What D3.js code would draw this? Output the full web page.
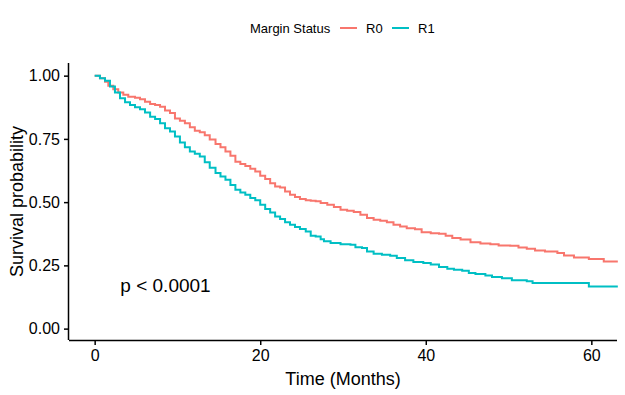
<!DOCTYPE html>
<html>
<head>
<meta charset="utf-8">
<script src="https://cdn.jsdelivr.net/npm/d3@7"></script>
<style>
  body { margin: 0; background: #fff; }
  svg text { font-family: Arial, "Liberation Sans", sans-serif; }
</style>
</head>
<body>
<svg width="625" height="395"></svg>
<script>
// Kaplan-Meier estimates
var groups = ["R0", "R1"];
var groupColors = ["#F8766D", "#00BFC4"];
var timeR0 = [0, 0.64, 1.25, 1.65, 2.25, 2.85, 3.46, 4.06, 4.87, 5.48, 6.08, 6.7, 7.3, 7.9, 8.5, 9.1, 9.7, 10.3, 10.9, 11.5, 12.1, 12.7, 13.3, 13.9, 14.6, 15.2, 15.8, 16.4, 17.0, 17.6, 18.2, 18.8, 19.4, 20.0, 20.6, 21.2, 21.8, 22.4, 23.0, 23.6, 24.2, 24.8, 25.5, 26.1, 26.7, 27.3, 28.1, 28.9, 29.7, 30.5, 31.3, 32.1, 32.9, 33.7, 34.5, 35.3, 36.1, 36.9, 37.7, 38.7, 39.5, 40.6, 41.6, 42.4, 43.2, 44.2, 45.4, 46.6, 47.8, 48.8, 50.2, 51.2, 52.2, 53.2, 54.4, 55.9, 56.7, 57.9, 59.7, 61.5, 63.2];
var survR0 = [1.0, 0.990, 0.976, 0.960, 0.946, 0.933, 0.924, 0.917, 0.913, 0.907, 0.897, 0.888, 0.884, 0.877, 0.862, 0.852, 0.831, 0.822, 0.812, 0.796, 0.782, 0.776, 0.764, 0.748, 0.730, 0.717, 0.700, 0.683, 0.660, 0.651, 0.643, 0.632, 0.621, 0.604, 0.591, 0.575, 0.562, 0.558, 0.542, 0.529, 0.520, 0.512, 0.507, 0.505, 0.503, 0.497, 0.490, 0.481, 0.470, 0.466, 0.461, 0.450, 0.437, 0.430, 0.426, 0.420, 0.411, 0.404, 0.397, 0.393, 0.381, 0.377, 0.375, 0.367, 0.358, 0.352, 0.341, 0.336, 0.334, 0.329, 0.328, 0.321, 0.316, 0.309, 0.305, 0.299, 0.289, 0.281, 0.275, 0.265, 0.265];
var timeR1 = [0, 0.64, 1.25, 1.85, 2.45, 3.06, 3.67, 4.27, 4.87, 5.48, 6.08, 6.7, 7.3, 7.9, 8.5, 9.1, 9.7, 10.3, 10.9, 11.5, 12.1, 12.7, 13.3, 13.9, 14.6, 15.2, 15.8, 16.4, 17.0, 17.6, 18.2, 18.8, 19.4, 20.0, 20.6, 21.2, 21.8, 22.4, 23.0, 23.6, 24.2, 24.8, 25.5, 26.1, 26.7, 27.3, 27.7, 28.5, 29.7, 30.9, 31.5, 32.3, 32.9, 33.7, 34.7, 35.7, 36.5, 37.5, 38.5, 39.7, 40.6, 41.6, 42.6, 43.4, 44.4, 45.2, 46.0, 47.2, 48.0, 49.2, 50.4, 52.2, 52.9, 59.7, 63.2];
var survR1 = [1.0, 0.990, 0.980, 0.957, 0.933, 0.911, 0.895, 0.884, 0.875, 0.867, 0.854, 0.838, 0.829, 0.812, 0.792, 0.779, 0.759, 0.736, 0.717, 0.700, 0.691, 0.680, 0.658, 0.636, 0.615, 0.601, 0.588, 0.568, 0.549, 0.538, 0.529, 0.516, 0.507, 0.490, 0.473, 0.459, 0.443, 0.433, 0.420, 0.411, 0.402, 0.394, 0.384, 0.367, 0.364, 0.353, 0.345, 0.338, 0.334, 0.332, 0.322, 0.319, 0.305, 0.296, 0.292, 0.288, 0.279, 0.270, 0.263, 0.259, 0.253, 0.244, 0.237, 0.233, 0.229, 0.220, 0.216, 0.210, 0.204, 0.199, 0.191, 0.187, 0.180, 0.166, 0.166];
var xTicks = [0, 20, 40, 60];
var yTicks = [0, 0.25, 0.5, 0.75, 1];
var pLabel = "p < 0.0001";

var margin = { top: 63, right: 8, bottom: 55, left: 69 };
var width = 625 - margin.left - margin.right;
var height = 395 - margin.top - margin.bottom;

var svg = d3.select("svg");
var g = svg.append("g")
    .attr("transform", "translate(" + margin.left + "," + margin.top + ")");

var x = d3.scaleLinear().domain([-3.1, 63.1]).range([0, width]);
var y = d3.scaleLinear().domain([-0.045, 1.05]).range([height, 0]);

var series = [
    { name: groups[0], color: groupColors[0], t: timeR0, s: survR0 },
    { name: groups[1], color: groupColors[1], t: timeR1, s: survR1 }
];

var line = d3.line()
    .curve(d3.curveStepAfter)
    .x(function (d) { return x(d[0]); })
    .y(function (d) { return y(d[1]); });

series.forEach(function (sr) {
    g.append("path")
        .datum(d3.zip(sr.t, sr.s))
        .attr("fill", "none")
        .attr("stroke", sr.color)
        .attr("stroke-width", 2)
        .attr("d", line);
});

// axes
var xAxis = g.append("g")
    .attr("transform", "translate(0," + height + ")")
    .call(d3.axisBottom(x).tickValues(xTicks).tickSize(5).tickPadding(5).tickFormat(d3.format("d")));
var yAxis = g.append("g")
    .call(d3.axisLeft(y).tickValues(yTicks).tickSize(5).tickPadding(4).tickFormat(d3.format(".2f")));

[xAxis, yAxis].forEach(function (ax) {
    ax.select(".domain").attr("stroke", "#000").attr("stroke-width", 1.5);
    ax.selectAll(".tick line").attr("stroke", "#000").attr("stroke-width", 1.5);
    ax.selectAll(".tick text")
        .attr("fill", "#000")
        .style("font-size", "16px")
        .style("font-family", "Arial, 'Liberation Sans', sans-serif");
});
// ggplot-like axis lines without end caps
xAxis.select(".domain").attr("d", "M0,0.5H" + width);
yAxis.select(".domain").attr("d", "M-0.5,0V" + height);

// p value
g.append("text")
    .attr("x", x(3.1))
    .attr("y", y(0.17))
    .attr("dy", "0.35em")
    .style("font-size", "19px")
    .attr("fill", "#000")
    .text(pLabel);

// axis titles
svg.append("text")
    .attr("x", margin.left + width / 2)
    .attr("y", 385)
    .attr("text-anchor", "middle")
    .style("font-size", "18px")
    .text("Time (Months)");
svg.append("text")
    .attr("transform", "translate(23," + (margin.top + height / 2) + ") rotate(-90)")
    .attr("text-anchor", "middle")
    .style("font-size", "18px")
    .text("Survival probability");

// legend
var legend = svg.append("g").attr("transform", "translate(250,28)");
legend.append("text")
    .attr("x", 0).attr("dy", "0.35em")
    .style("font-size", "13px")
    .text("Margin Status");
var legendX = [90, 142];
series.forEach(function (sr, i) {
    legend.append("line")
        .attr("x1", legendX[i]).attr("x2", legendX[i] + 17)
        .attr("stroke", sr.color).attr("stroke-width", 2);
    legend.append("text")
        .attr("x", legendX[i] + 26).attr("dy", "0.35em")
        .style("font-size", "13px")
        .text(sr.name);
});
</script>
</body>
</html>
